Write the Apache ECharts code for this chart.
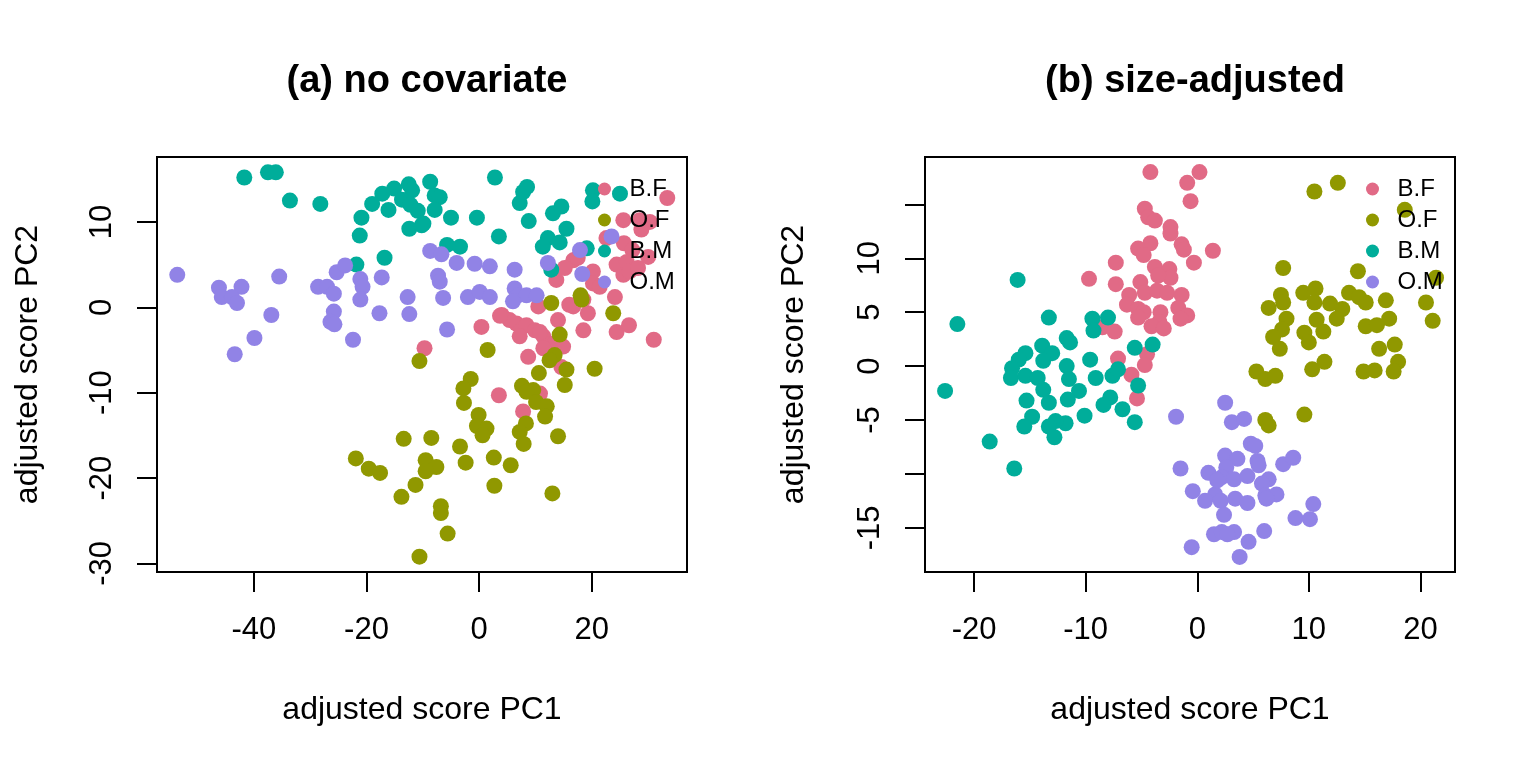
<!DOCTYPE html>
<html>
<head>
<meta charset="utf-8">
<script src="https://cdn.jsdelivr.net/npm/echarts@6/dist/echarts.min.js"></script>
<style>html,body{margin:0;padding:0;background:#fff}#c{width:1536px;height:768px}</style>
</head>
<body>
<div id="c"></div>
<script>
// ---- data: panel (a) no covariate ----
const groups = ['B.F', 'O.F', 'B.M', 'O.M'];
const colors = ['#E16A86', '#909800', '#00AD9A', '#9183E6'];

const aBF = [[33.4,12.8],[25.6,10.2],[28.5,10.2],[30.3,10.0],[28.8,9.1],[22.6,8.1],[25.7,7.5],[27.2,6.7],[30.0,5.9],[24.4,5.0],[26.2,5.3],[25.6,3.8],[26.7,4.2],[28.2,4.6],[20.2,4.2],[16.7,5.5],[15.2,4.6],[13.7,3.2],[20.2,2.8],[21.4,2.4],[24.1,1.2],[18.5,0.9],[19.3,-0.7],[16.7,0.1],[16.0,0.3],[14.0,-1.5],[18.5,-2.7],[24.4,-2.9],[26.6,-2.1],[31.0,-3.8],[10.5,0.1],[4.0,-0.9],[0.4,-2.3],[6.6,-1.9],[8.4,-2.1],[9.9,-2.7],[5.4,-1.5],[7.2,-3.4],[11.4,-3.4],[12.0,-4.4],[13.4,-4.2],[14.9,-4.6],[-9.7,-4.8],[8.7,-5.8],[3.7,-1.0],[10.8,-2.9],[11.4,-4.8],[14.6,-7.0],[3.5,-10.3],[10.8,-10.1],[7.8,-12.2],[17.5,5.8]];
const aOF = [[-10.6,-6.3],[1.5,-5.0],[12.8,0.5],[18.2,0.9],[14.3,-3.2],[13.4,-5.6],[12.5,-6.2],[15.5,-7.3],[20.5,-7.2],[10.6,-7.7],[15.2,-9.1],[7.6,-9.2],[9.6,-9.7],[8.4,-9.9],[10.1,-11.1],[12.0,-11.6],[11.7,-12.8],[8.3,-13.6],[7.2,-14.6],[7.9,-16.0],[14.0,-15.1],[13.0,-21.8],[-1.5,-8.4],[-2.8,-9.5],[-2.7,-11.2],[-0.1,-12.6],[-0.4,-13.9],[1.3,-14.2],[0.6,-15.0],[-3.4,-16.3],[-2.4,-18.2],[2.6,-17.6],[5.6,-18.5],[2.7,-20.9],[-13.4,-15.4],[-8.5,-15.3],[-9.5,-17.9],[-7.6,-18.7],[-9.5,-19.2],[-21.9,-17.7],[-19.6,-18.9],[-17.6,-19.4],[-11.3,-20.8],[-13.8,-22.2],[-6.8,-23.3],[-6.8,-24.1],[-5.6,-26.5],[-10.6,-29.2],[18.0,1.4],[23.8,-0.7]];
const aBM = [[-41.7,15.2],[-37.5,15.8],[-36.1,15.8],[-33.6,12.5],[-28.2,12.1],[-20.9,10.5],[-21.2,8.4],[-16.8,5.8],[-21.8,5.0],[-19.0,12.1],[-17.2,13.3],[-15.1,13.9],[-12.5,14.4],[-11.9,13.7],[-16.1,11.4],[-13.7,12.6],[-12.2,12.0],[-10.9,11.3],[-12.4,9.2],[-10.2,9.6],[-8.7,14.7],[-7.9,13.1],[-7.0,12.9],[-7.9,11.4],[-9.9,9.8],[-5.0,10.5],[-0.4,10.5],[2.8,15.2],[3.5,8.3],[-5.7,7.3],[-3.4,7.1],[7.2,12.2],[7.8,13.5],[8.5,14.1],[8.8,10.1],[13.1,11.0],[14.6,11.8],[15.5,9.2],[12.2,8.1],[11.3,7.1],[14.3,7.6],[19.1,6.9],[12.8,4.4],[20.2,13.7],[20.1,12.4],[25.0,13.3]];
const aOM = [[-53.6,3.8],[-46.2,2.3],[-42.2,2.4],[-45.7,1.2],[-43.9,1.2],[-43.0,0.5],[-35.5,3.6],[-36.9,-0.9],[-39.9,-3.6],[-43.4,-5.5],[-28.6,2.4],[-27.0,2.4],[-25.8,1.6],[-25.3,4.1],[-23.8,4.9],[-25.8,-0.5],[-26.4,-1.7],[-25.7,-2.0],[-21.1,3.3],[-20.7,2.4],[-21.1,0.9],[-22.4,-3.8],[-17.3,3.5],[-17.7,-0.7],[-12.7,1.2],[-12.4,-0.8],[-8.7,6.6],[-6.7,6.2],[-4.0,5.2],[-0.8,5.1],[1.9,4.8],[6.3,4.4],[-7.3,3.7],[-7.0,3.0],[-6.4,1.1],[-2.0,1.2],[0.1,1.8],[1.9,1.2],[6.3,2.2],[6.9,1.4],[8.4,1.4],[10.2,1.4],[6.0,0.7],[-5.7,-2.6],[12.2,5.2],[17.9,6.7],[18.3,3.9],[23.5,8.3]];

// ---- data: panel (b) size-adjusted ----
const bBF = [[-4.2,18.0],[0.2,18.0],[-0.9,17.0],[-0.6,15.3],[-4.7,14.6],[-4.4,13.8],[-3.8,13.5],[-2.4,12.9],[-2.4,12.3],[-1.4,11.3],[-1.2,10.8],[1.4,10.7],[-4.2,11.4],[-5.3,10.9],[-4.8,10.3],[-0.3,9.6],[-7.3,9.6],[-9.7,8.1],[-7.3,7.6],[-3.8,9.2],[-2.5,9.0],[-2.4,8.2],[-3.5,8.4],[-5.1,7.8],[-4.7,6.8],[-3.6,7.0],[-2.7,6.8],[-1.4,6.6],[-6.1,6.6],[-6.3,5.7],[-5.3,5.3],[-4.8,5.0],[-5.3,4.5],[-3.3,5.0],[-1.7,5.4],[-0.9,4.7],[-1.5,4.4],[-3.4,4.1],[-4.1,3.7],[-3.0,3.5],[-8.5,3.6],[-7.4,3.2],[-7.1,0.7],[-4.5,1.1],[-4.7,0.1],[-5.9,-0.8],[-5.4,-3.0]];
const bOF = [[10.5,16.2],[12.6,17.0],[18.6,14.5],[7.7,9.1],[14.4,8.8],[21.4,8.2],[7.5,6.6],[7.7,5.9],[6.4,5.4],[9.5,6.8],[10.6,7.2],[10.5,5.9],[11.9,5.8],[13.0,5.3],[13.6,6.8],[14.5,6.4],[15.1,5.9],[16.9,6.1],[20.5,5.9],[21.1,4.2],[8.0,4.4],[7.6,3.4],[10.7,4.3],[11.3,3.2],[12.5,4.4],[15.1,3.7],[16.1,3.8],[17.2,4.4],[6.8,2.7],[9.6,3.1],[10.0,2.2],[7.4,1.6],[17.7,2.0],[16.3,1.6],[18.0,0.4],[17.6,-0.5],[14.9,-0.5],[15.9,-0.4],[11.4,0.4],[10.3,-0.3],[5.3,-0.5],[6.1,-1.2],[7.0,-0.9],[9.6,-4.5],[6.1,-5.0],[6.4,-5.5]];
const bBM = [[-16.1,8.0],[-21.5,3.9],[-22.6,-2.3],[-18.6,-7.0],[-13.3,4.5],[-9.4,4.4],[-8.0,4.5],[-9.3,3.3],[-11.7,2.6],[-11.4,2.2],[-13.9,1.9],[-13.0,1.2],[-15.4,1.2],[-16.0,0.6],[-13.8,0.5],[-16.6,-0.2],[-16.7,-1.1],[-15.4,-0.9],[-14.3,-1.1],[-11.7,0.0],[-11.5,-1.2],[-13.8,-2.2],[-10.6,-2.3],[-11.6,-3.1],[-13.3,-3.4],[-15.3,-3.2],[-9.6,0.6],[-9.1,-1.1],[-7.6,-0.9],[-7.1,-0.3],[-5.6,1.7],[-4.0,2.0],[-5.3,-1.8],[-7.8,-2.9],[-8.4,-3.6],[-6.7,-4.0],[-5.6,-5.2],[-10.1,-4.6],[-11.8,-5.3],[-12.7,-5.1],[-13.3,-5.6],[-12.8,-6.6],[-14.8,-4.7],[-15.5,-5.6],[-16.4,-9.5]];
const bOM = [[2.5,-3.4],[-1.9,-4.7],[3.1,-5.2],[4.2,-4.9],[4.8,-7.2],[5.2,-7.4],[2.5,-8.3],[3.6,-8.6],[5.4,-8.8],[5.5,-9.2],[7.7,-9.1],[8.6,-8.5],[-1.5,-9.5],[1.0,-9.9],[2.6,-9.4],[2.2,-10.3],[3.3,-10.5],[4.5,-10.2],[6.4,-10.5],[5.8,-10.9],[-0.4,-11.6],[1.6,-11.9],[6.1,-12.0],[7.1,-11.9],[0.7,-12.5],[2.1,-12.5],[3.4,-12.3],[4.5,-12.7],[2.4,-13.8],[6.2,-12.3],[10.4,-12.8],[8.8,-14.1],[10.1,-14.2],[1.5,-15.6],[2.2,-15.4],[3.3,-15.4],[4.6,-16.3],[6.0,-15.3],[-0.5,-16.8],[3.8,-17.7],[2.7,-15.6],[1.8,-10.6]];

// ---- tick labels ----
const aXTicks = [-40, -20, 0, 20];
const aYTicks = [-30, -20, -10, 0, 10];
const bXTicks = [-20, -10, 0, 10, 20];
const bYTicks = [-15, -10, -5, 0, 5, 10, 15];
const bYLabels = [-15, -5, 0, 5, 10];

const titles = ['(a) no covariate', '(b) size-adjusted'];
const xName = 'adjusted score PC1';
const yName = 'adjusted score PC2';

const FONT = 'Liberation Sans, Arial, Helvetica, sans-serif';
const chart = echarts.init(document.getElementById('c'), null, {renderer: 'canvas'});

function xAxisCfg(gi, min, max, ticks) {
  return {
    type: 'value', gridIndex: gi, min: min, max: max, position: 'bottom',
    splitLine: {show: false},
    axisLine: {show: false, onZero: false},
    axisTick: {show: true, inside: false, length: 20, customValues: ticks, lineStyle: {color: '#000', width: 2}},
    axisLabel: {show: true, customValues: ticks, margin: 43, fontSize: 31, color: '#000', fontFamily: FONT},
    name: xName, nameLocation: 'middle', nameGap: 122,
    nameTextStyle: {fontSize: 32, color: '#000', fontFamily: FONT}
  };
}
function yAxisCfg(gi, min, max, ticks, labels, gap) {
  return {
    type: 'value', gridIndex: gi, min: min, max: max, position: 'left',
    splitLine: {show: false},
    axisLine: {show: false, onZero: false},
    axisTick: {show: true, inside: false, length: 20, customValues: ticks, lineStyle: {color: '#000', width: 2}},
    axisLabel: {show: true, customValues: labels, rotate: 90, margin: 39, fontSize: 31, color: '#000', fontFamily: FONT},
    name: yName, nameLocation: 'middle', nameGap: gap,
    nameTextStyle: {fontSize: 32, color: '#000', fontFamily: FONT}
  };
}
function sc(name, gi, color, data) {
  return {
    type: 'scatter', name: name, xAxisIndex: gi, yAxisIndex: gi,
    data: data, symbol: 'circle', symbolSize: 16,
    itemStyle: {color: color, opacity: 1},
    emphasis: {disabled: true}, animation: false
  };
}
function legendCfg(left) {
  return {
    show: true, orient: 'vertical', left: left, top: 177,
    data: groups, icon: 'circle', itemWidth: 24, itemHeight: 13, itemGap: 7,
    padding: 0, selectedMode: false,
    textStyle: {fontSize: 24, lineHeight: 24, color: '#000', fontFamily: FONT, padding: [0, 0, 0, 8]}
  };
}

const panelA = [aBF, aOF, aBM, aOM];
const panelB = [bBF, bOF, bBM, bOM];
const series = [];
groups.forEach((g, i) => series.push(sc(g, 0, colors[i], panelA[i])));
groups.forEach((g, i) => series.push(sc(g, 1, colors[i], panelB[i])));

chart.setOption({
  animation: false,
  backgroundColor: '#fff',
  color: colors,
  title: [
    {text: titles[0], left: 422, top: 58, textAlign: 'center', textStyle: {fontSize: 38, fontWeight: 'bold', color: '#000', fontFamily: FONT}},
    {text: titles[1], left: 1190, top: 58, textAlign: 'center', textStyle: {fontSize: 38, fontWeight: 'bold', color: '#000', fontFamily: FONT}}
  ],
  grid: [
    {left: 157, top: 157, width: 530, height: 415, show: true, borderColor: '#000', borderWidth: 2, backgroundColor: 'transparent'},
    {left: 925, top: 157, width: 530, height: 415, show: true, borderColor: '#000', borderWidth: 2, backgroundColor: 'transparent'}
  ],
  xAxis: [xAxisCfg(0, -57.2, 36.9, aXTicks), xAxisCfg(1, -24.4, 23.1, bXTicks)],
  yAxis: [yAxisCfg(0, -31.0, 17.6, aYTicks, aYTicks, 113), yAxisCfg(1, -19.1, 19.4, bYTicks, bYLabels, 115)],
  legend: [legendCfg(598), legendCfg(1366)],
  series: series
});
</script>
</body>
</html>
